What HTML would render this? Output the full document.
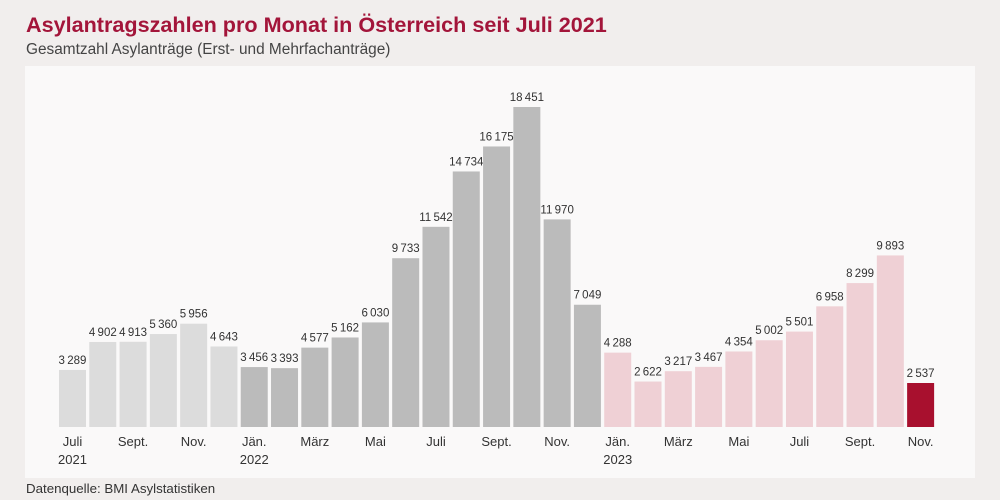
<!DOCTYPE html>
<html><head><meta charset="utf-8">
<style>
body{margin:0;width:1000px;height:500px;background:#f1eeed;font-family:"Liberation Sans","DejaVu Sans",sans-serif;position:relative;overflow:hidden}
#title{position:absolute;left:26px;top:12px;font-size:21.6px;font-weight:bold;color:#a3153a;white-space:nowrap}
#sub{position:absolute;left:26px;top:41px;font-size:15.4px;color:#444;white-space:nowrap}
#src{position:absolute;left:26px;top:481px;font-size:13.3px;color:#333}
svg{position:absolute;left:0;top:0}
</style></head><body>
<div id="title">Asylantragszahlen pro Monat in Österreich seit Juli 2021</div>
<div id="sub">Gesamtzahl Asylanträge (Erst- und Mehrfachanträge)</div>
<div id="src">Datenquelle: BMI Asylstatistiken</div>
<svg id="chart" width="1000" height="500">
<rect x="25" y="66" width="950" height="412" fill="#faf9f9"/>
</svg>
<script>
const values=[3289,4902,4913,5360,5956,4643,3456,3393,4577,5162,6030,9733,11542,14734,16175,18451,11970,7049,4288,2622,3217,3467,4354,5002,5501,6958,8299,9893,2537];
const groups=[0,0,0,0,0,0,1,1,1,1,1,1,1,1,1,1,1,1,2,2,2,2,2,2,2,2,2,2,3];
const tickIdx=[0,2,4,6,8,10,12,14,16,18,20,22,24,26,28];
const tickLabels=["Juli","Sept.","Nov.","Jän.","März","Mai","Juli","Sept.","Nov.","Jän.","März","Mai","Juli","Sept.","Nov."];
const yearIdx=[0,6,18];
const yearLabels=["2021","2022","2023"];
const colors=["#dcdcdc","#bbbbbb","#efd0d5","#a8102e"];
const svg=document.getElementById('chart');
const NS='http://www.w3.org/2000/svg';
const x0=59,pitch=30.29,bw=27,base=427,maxH=320,maxV=18451;
const xs=i=>x0+i*pitch;
const ys=v=>base-v/maxV*maxH;
function fmt(v){const s=String(v);return s.length>3?s.slice(0,-3)+'\u2009'+s.slice(-3):s;}
values.forEach((v,i)=>{
 const r=document.createElementNS(NS,'rect');
 r.setAttribute('x',xs(i));r.setAttribute('y',ys(v));r.setAttribute('width',bw);r.setAttribute('height',base-ys(v));
 r.setAttribute('fill',colors[groups[i]]);
 
 
 svg.appendChild(r);
 const t=document.createElementNS(NS,'text');
 t.setAttribute('x',xs(i)+bw/2);t.setAttribute('y',ys(v)-6);t.setAttribute('text-anchor','middle');
 t.setAttribute('font-size','11.5');t.setAttribute('fill','#333');t.textContent=fmt(v);
 
 
 svg.appendChild(t);
});
tickIdx.forEach((idx,k)=>{
 const t=document.createElementNS(NS,'text');
 t.setAttribute('x',xs(idx)+bw/2);t.setAttribute('y',446);t.setAttribute('text-anchor','middle');
 t.setAttribute('font-size','13');t.setAttribute('fill','#333');t.textContent=tickLabels[k];
 
 
 svg.appendChild(t);
});
yearIdx.forEach((idx,k)=>{
 const t=document.createElementNS(NS,'text');
 t.setAttribute('x',xs(idx)+bw/2);t.setAttribute('y',464);t.setAttribute('text-anchor','middle');
 t.setAttribute('font-size','13');t.setAttribute('fill','#333');t.textContent=yearLabels[k];
 
 
 svg.appendChild(t);
});
</script>
</body></html>
